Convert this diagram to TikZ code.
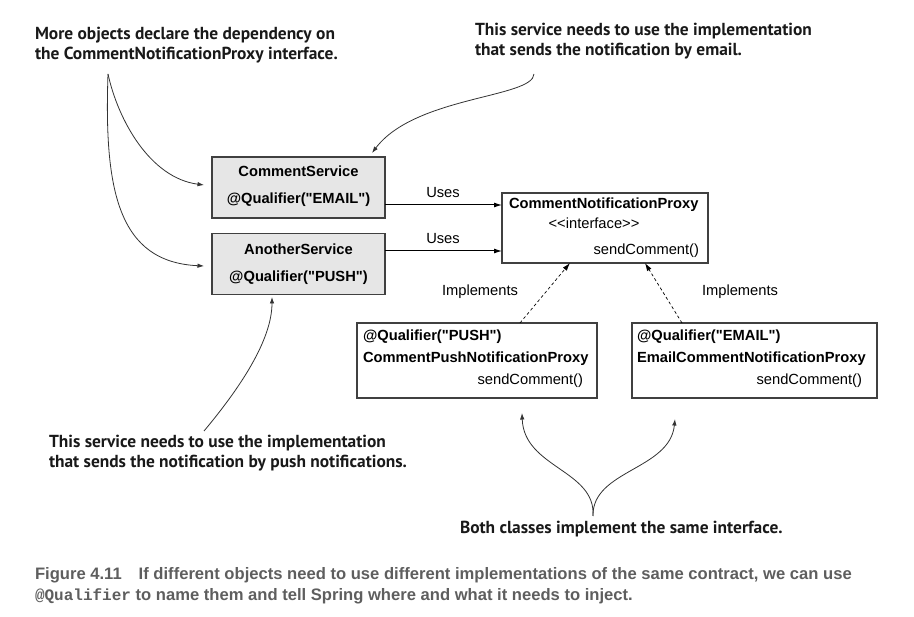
\documentclass[tikz,border=0pt]{standalone}
\usepackage{fontspec}
\newfontfamily\boxfont{Liberation Sans}
\newfontfamily\notefont{PT Sans}
\newfontfamily\capfont{Liberation Sans}
\newfontfamily\capmono{Liberation Mono}
\usetikzlibrary{arrows.meta}
\definecolor{boxgray}{HTML}{E6E6E6}
\definecolor{capgray}{HTML}{5E5E5E}

\begin{document}
\begin{tikzpicture}[x=1pt,y=-1pt,
  every node/.style={inner sep=0pt, outer sep=0pt},
  frame/.style={draw=black!75, line width=1.2pt},
  svcbox/.style={frame, fill=boxgray, minimum width=173pt, minimum height=61pt},
  clsbox/.style={frame, fill=white, minimum height=75pt},
  bold/.style={font=\boxfont\fontsize{14.7}{17}\selectfont\bfseries},
  plain/.style={font=\boxfont\fontsize{14.7}{17}\selectfont},
  note/.style={font=\notefont\fontsize{17.4}{20}\selectfont\bfseries, align=left, anchor=north west, text=black!90},
  uses/.style={line width=1pt, -{Latex[length=8pt,width=5pt]}},
  impl/.style={line width=0.7pt, dash pattern=on 3pt off 2.5pt, -{Latex[length=8pt,width=5pt]}},
  callout/.style={line width=0.8pt, draw=black!80, -{Latex[length=6.5pt,width=4.5pt]}},
]
\useasboundingbox (0,0) rectangle (914,617);

% services that depend on the proxy
\node[svcbox] (cs) at (298.5,187.5) {};
\node[bold] (csname) at (298.5,171) {CommentService};
\node[bold] (csqual) at (298.5,200) {@Qualifier("EMAIL")};
\node[svcbox] (as) at (298.5,264) {};
\node[bold] (asname) at (298.5,249) {AnotherService};
\node[bold] (asqual) at (298.5,278) {@Qualifier("PUSH")};

% the interface
\node[frame, fill=white, minimum width=206pt, minimum height=70pt] (cnp) at (605,228) {};
\node[bold, anchor=west] (cnpname) at (509,205) {CommentNotificationProxy};
\node[plain] (cnpstereo) at (594,223) {<<interface>>};
\node[plain, anchor=east] (cnpop) at (699,251) {sendComment()};

% the two implementations
\node[clsbox, minimum width=240pt] (push) at (477,360.5) {};
\node[bold, anchor=west] (pushqual) at (363,337) {@Qualifier("PUSH")};
\node[bold, anchor=west] (pushname) at (363,359) {CommentPushNotificationProxy};
\node[plain, anchor=east] (pushop) at (583,381) {sendComment()};

\node[clsbox, minimum width=245pt] (email) at (754.5,360.5) {};
\node[bold, anchor=west] (emailqual) at (637,337) {@Qualifier("EMAIL")};
\node[bold, anchor=west] (emailname) at (637,359) {EmailCommentNotificationProxy};
\node[plain, anchor=east] (emailop) at (862,381) {sendComment()};

% uses relations
\draw[uses] (cs.east |- 0,205) -- (cnp.west |- 0,205);
\draw[uses] (as.east |- 0,251) -- (cnp.west |- 0,251);
\node[plain] (uses1) at (443,193) {Uses};
\node[plain] (uses2) at (443,239) {Uses};

% implements relations
\draw[impl] (push.north -| 520,0) -- (cnp.south -| 570,0);
\draw[impl] (email.north -| 682,0) -- (cnp.south -| 645,0);
\node[plain] (impl1) at (480,292) {Implements};
\node[plain] (impl2) at (740,292) {Implements};

% callouts
\node[note] (n1) at (35,27) {More objects declare the dependency on\\the CommentNotificationProxy interface.};
\node[note] (n2) at (475,23) {This service needs to use the implementation\\that sends the notification by email.};
\node[note] (n3) at (49,435) {This service needs to use the implementation\\that sends the notification by push notifications.};
\node[note] (n4) at (460,521) {Both classes implement the same interface.};

\coordinate (n1tail) at (108,74);
\coordinate (n2tail) at (534,74);
\coordinate (n3tail) at (204,431);
\coordinate (n4tail) at (593,516);
\coordinate (csin) at (204,185);
\coordinate (asin) at (204,266);
\coordinate (csTop) at (372,153);
\coordinate (asBot) at (272,297);
\coordinate (pushBot) at (522,413);
\coordinate (emailBot) at (675,419);

\draw[callout] (n1tail) .. controls (118,120) and (150,178) .. (csin);
\draw[callout] (n1tail) .. controls (104,190) and (118,262) .. (asin);
\draw[callout] (n2tail) .. controls (533,98) and (415,96) .. (csTop);
\draw[callout] (n3tail) .. controls (240,388) and (272,340) .. (asBot);
\draw[callout] (n4tail) .. controls (596,470) and (524,468) .. (pushBot);
\draw[callout] (n4tail) .. controls (592,470) and (670,470) .. (emailBot);

% caption
\node[anchor=west, text=capgray, font=\capfont\fontsize{16.6}{21}\selectfont\bfseries, align=left] (cap) at (35,586)
  {Figure 4.11\hspace{17pt}If different objects need to use different implementations of the same contract, we can use\\
   {\capmono\fontsize{16}{21}\selectfont @Qualifier} to name them and tell Spring where and what it needs to inject.};
\end{tikzpicture}
\end{document}
